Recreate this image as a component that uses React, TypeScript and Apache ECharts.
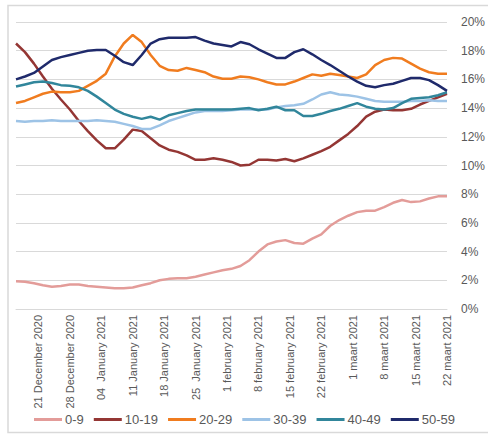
import React, { useEffect, useRef } from "react";
import * as echarts from "echarts";

// 97 daily categories: 16 Dec 2020 .. 22 Mar 2021 (index = day offset)
const dayCount = 97;
const categories = Array.from({ length: dayCount }, (_, i) => String(i));

// tick labels at day offsets
const tickDays = [5, 12, 19, 26, 33, 40, 47, 54, 61, 68, 75, 82, 89, 96];
const tickLabels = [
  "21 December 2020",
  "28 December 2020",
  "04  January 2021",
  "11 January 2021",
  "18 January 2021",
  "25  January 2021",
  "1 february 2021",
  "8 february 2021",
  "15 february 2021",
  "22 february 2021",
  "1 maart 2021",
  "8 maart 2021",
  "15 maart 2021",
  "22 maart 2021",
];

// sample days (every second day)
const sampleDays = [
  0, 2, 4, 6, 8, 10, 12, 14, 16, 18, 20, 22, 24, 26, 28, 30, 32, 34, 36, 38, 40,
  42, 44, 46, 48, 50, 52, 54, 56, 58, 60, 62, 64, 66, 68, 70, 72, 74, 76, 78, 80,
  82, 84, 86, 88, 90, 92, 94, 96,
];

const s0_9 = [
  1.93, 1.9, 1.8, 1.65, 1.55, 1.6, 1.7, 1.7, 1.6, 1.55, 1.5, 1.45, 1.45, 1.5, 1.65,
  1.8, 2.0, 2.1, 2.15, 2.15, 2.25, 2.4, 2.55, 2.7, 2.8, 3.0, 3.4, 4.0, 4.5, 4.7,
  4.8, 4.6, 4.55, 4.9, 5.2, 5.8, 6.2, 6.5, 6.75, 6.85, 6.85, 7.1, 7.4, 7.6, 7.45,
  7.5, 7.7, 7.85, 7.85,
];
const s10_19 = [
  18.5, 17.9, 17.1, 16.2, 15.35, 14.6, 13.9, 13.1, 12.4, 11.75, 11.2, 11.2, 11.8,
  12.5, 12.4, 11.9, 11.4, 11.1, 10.95, 10.7, 10.4, 10.4, 10.5, 10.4, 10.25, 10.0,
  10.05, 10.4, 10.4, 10.35, 10.45, 10.3, 10.5, 10.75, 11.0, 11.3, 11.75, 12.2,
  12.75, 13.4, 13.75, 13.9, 13.85, 13.85, 13.95, 14.25, 14.5, 14.75, 15.0,
];
const s20_29 = [
  14.35, 14.5, 14.75, 15.0, 15.15, 15.1, 15.1, 15.2, 15.55, 15.9, 16.4, 17.6, 18.5,
  19.1, 18.6, 17.7, 16.95, 16.65, 16.6, 16.8, 16.65, 16.5, 16.2, 16.05, 16.05,
  16.2, 16.15, 16.0, 15.8, 15.65, 15.65, 15.85, 16.1, 16.35, 16.25, 16.4, 16.3,
  16.2, 16.1, 16.35, 17.0, 17.35, 17.5, 17.45, 17.1, 16.75, 16.5, 16.4, 16.4,
];
const s30_39 = [
  13.1, 13.05, 13.1, 13.1, 13.15, 13.1, 13.1, 13.1, 13.1, 13.15, 13.1, 13.05, 12.9,
  12.75, 12.55, 12.55, 12.8, 13.1, 13.3, 13.5, 13.7, 13.8, 13.8, 13.8, 13.85, 13.9,
  13.9, 13.9, 13.9, 14.05, 14.15, 14.2, 14.3, 14.6, 14.95, 15.1, 14.95, 14.9, 14.8,
  14.65, 14.5, 14.45, 14.45, 14.45, 14.5, 14.5, 14.55, 14.5, 14.5,
];
const s40_49 = [
  15.5, 15.65, 15.8, 15.85, 15.75, 15.6, 15.55, 15.45, 15.2, 14.8, 14.35, 13.9,
  13.6, 13.4, 13.25, 13.4, 13.2, 13.5, 13.65, 13.8, 13.9, 13.9, 13.9, 13.9, 13.9,
  13.95, 14.0, 13.85, 13.95, 14.1, 13.85, 13.85, 13.45, 13.45, 13.6, 13.8, 13.95,
  14.15, 14.35, 14.1, 13.95, 13.9, 14.0, 14.35, 14.65, 14.7, 14.75, 14.9, 15.1,
];
const s50_59 = [
  16.0, 16.2, 16.45, 16.9, 17.35, 17.55, 17.7, 17.85, 18.0, 18.05, 18.05, 17.65,
  17.2, 17.0, 17.7, 18.5, 18.8, 18.9, 18.9, 18.9, 18.95, 18.7, 18.5, 18.4, 18.3,
  18.6, 18.45, 18.1, 17.8, 17.5, 17.5, 17.9, 18.1, 17.75, 17.35, 17.0, 16.6, 16.2,
  15.85, 15.55, 15.45, 15.6, 15.7, 15.9, 16.1, 16.1, 15.95, 15.6, 15.2,
];

const seriesNames = ["0-9", "10-19", "20-29", "30-39", "40-49", "50-59"];
const seriesValues = [s0_9, s10_19, s20_29, s30_39, s40_49, s50_59];
const seriesColors = ["#E39C99", "#943634", "#F07C1F", "#9DC3E6", "#31869B", "#1F2A6B"];

const yTicks = { min: 0, max: 20, interval: 2 };

export default function App() {
  const ref = useRef<HTMLDivElement>(null);
  useEffect(() => {
    if (!ref.current) return;
    const chart = echarts.init(ref.current, undefined, { renderer: "svg" });
    const labelMap: Record<number, string> = {};
    tickDays.forEach((d, i) => (labelMap[d] = tickLabels[i]));
    chart.setOption({
      animation: false,
      backgroundColor: "#ffffff",
      textStyle: { fontFamily: "Liberation Sans, Arial, sans-serif" },
      graphic: [
        {
          type: "rect",
          shape: { x: 8, y: 5.5, width: 490, height: 427 },
          style: { fill: "none", stroke: "#d9d9d9", lineWidth: 1.5 },
          silent: true,
        },
      ],
      grid: { left: 16, right: 35, top: 22, bottom: 125, containLabel: false },
      legend: {
        left: 34,
        top: 413,
        width: 454,
        padding: 0,
        icon: "rect",
        itemWidth: 28,
        itemHeight: 3,
        itemGap: 10,
        textStyle: { color: "#595959", fontSize: 13, padding: [0, 0, 0, -2] },
        data: seriesNames,
      },
      xAxis: {
        type: "category",
        data: categories,
        boundaryGap: false,
        axisLine: { show: true, lineStyle: { color: "#d9d9d9", width: 1 } },
        axisTick: { show: false },
        splitLine: { show: false },
        axisLabel: {
          rotate: 90,
          margin: 6,
          fontSize: 11,
          color: "#595959",
          interval: (index: number) => labelMap[index] !== undefined,
          formatter: (_v: string, index: number) => labelMap[index] ?? "",
        },
      },
      yAxis: {
        type: "value",
        position: "right",
        min: yTicks.min,
        max: yTicks.max,
        interval: yTicks.interval,
        axisLine: { show: false },
        axisTick: { show: false },
        splitLine: { lineStyle: { color: "#d9d9d9", width: 1 } },
        axisLabel: {
          formatter: "{value}%",
          color: "#595959",
          fontSize: 12,
          margin: 14,
        },
      },
      series: seriesNames.map((name, k) => ({
        name,
        type: "line",
        symbol: "none",
        smooth: false,
        color: seriesColors[k],
        lineStyle: { width: 2.5, color: seriesColors[k] },
        data: sampleDays.map((d, i) => [d, seriesValues[k][i]]),
      })),
    });
    return () => chart.dispose();
  }, []);
  return (
    <div
      ref={ref}
      style={{ position: "fixed", left: 0, top: 0, width: 488, height: 434 }}
    />
  );
}
